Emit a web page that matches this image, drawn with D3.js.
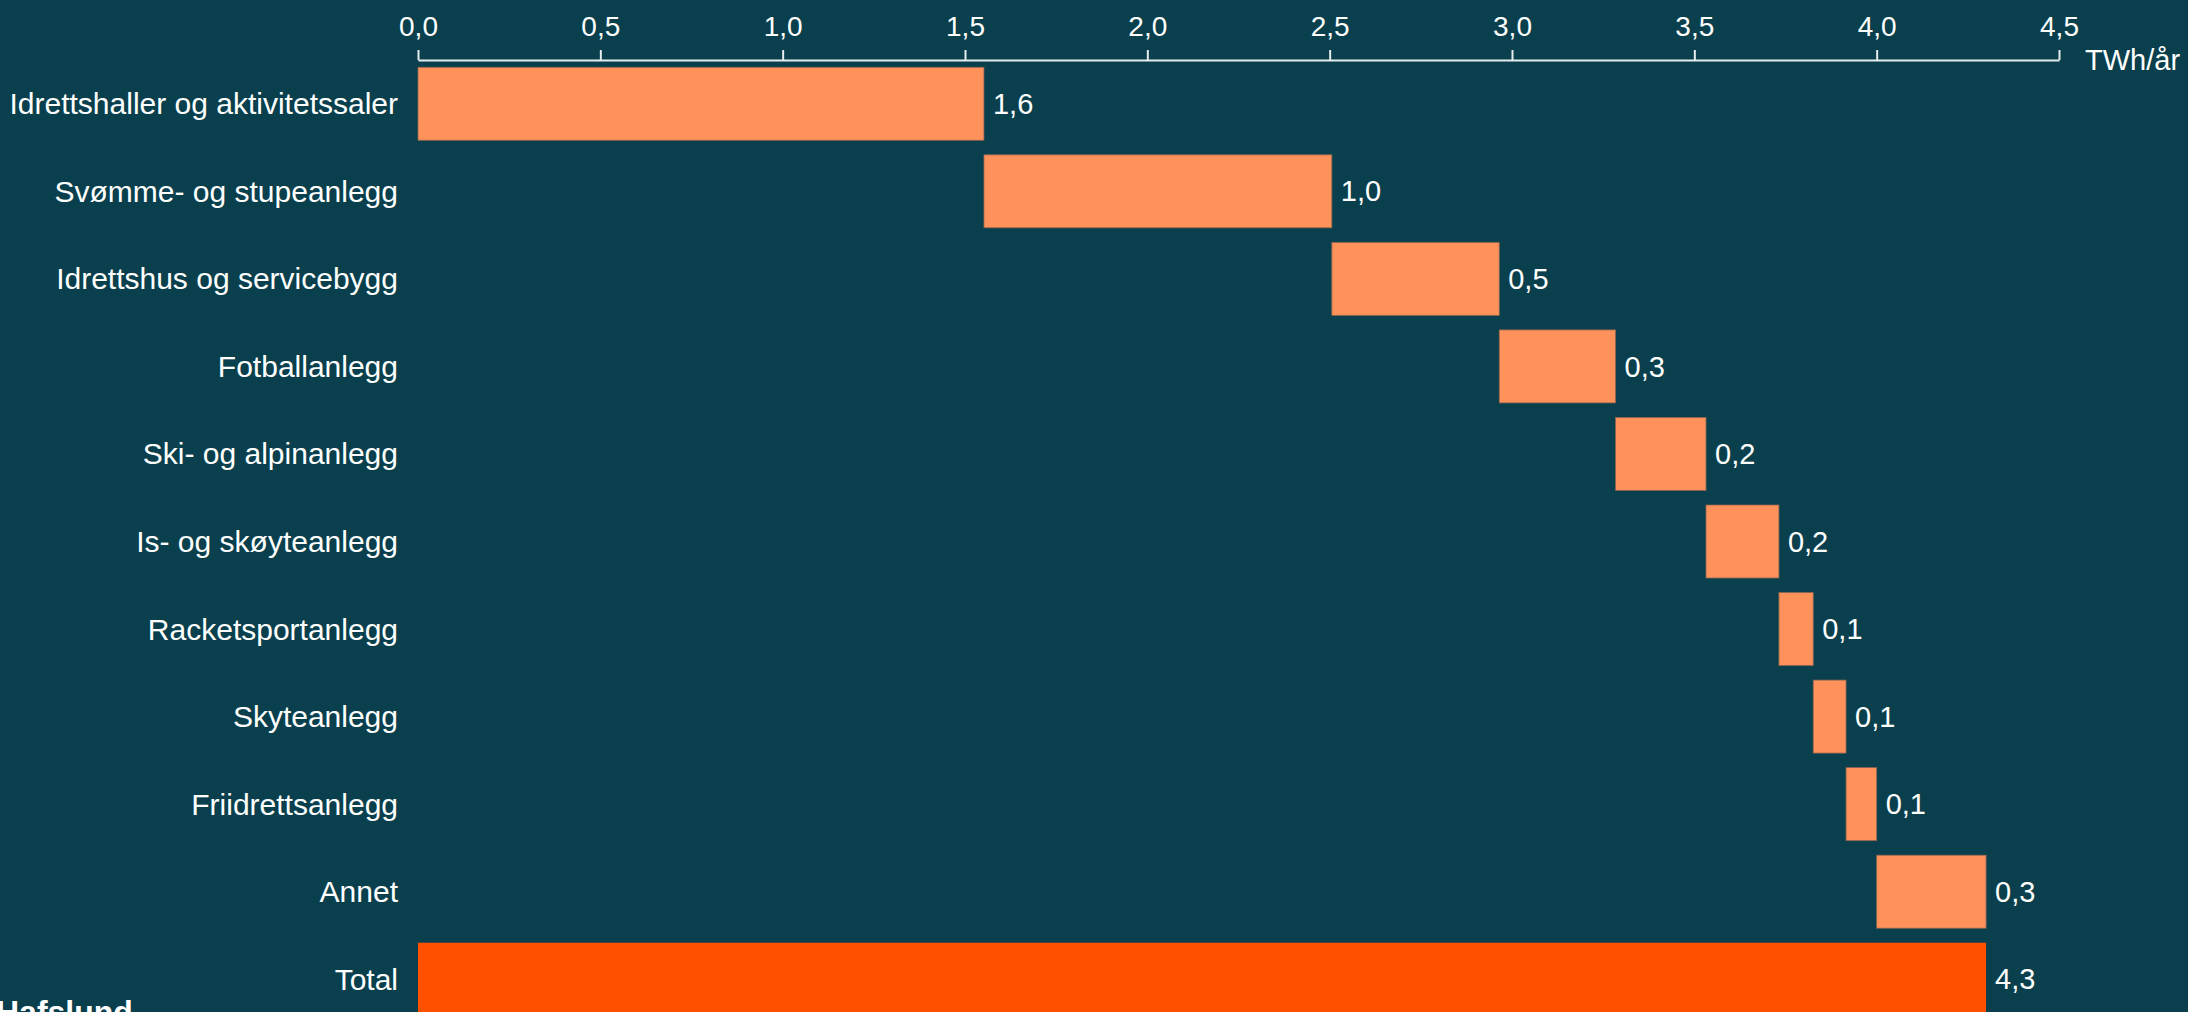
<!DOCTYPE html>
<html lang="no">
<head>
<meta charset="utf-8">
<title>Energibruk i idrettsanlegg</title>
<script src="https://cdn.jsdelivr.net/npm/d3@7"></script>
<style>
  html, body { margin: 0; padding: 0; background: #0a3f4d; overflow: hidden; }
  svg { display: block; }
  text { font-family: "Liberation Sans", Arial, sans-serif; fill: #ffffff; }
</style>
</head>
<body>
<svg id="chart" width="2188" height="1012"></svg>
<script>
// Energy use per facility type, TWh per year (waterfall steps, then total)
const categories = [
  "Idrettshaller og aktivitetssaler",
  "Svømme- og stupeanlegg",
  "Idrettshus og servicebygg",
  "Fotballanlegg",
  "Ski- og alpinanlegg",
  "Is- og skøyteanlegg",
  "Racketsportanlegg",
  "Skyteanlegg",
  "Friidrettsanlegg",
  "Annet"
];
const values = [1.552, 0.954, 0.459, 0.319, 0.248, 0.200, 0.094, 0.090, 0.084, 0.300];
const totalLabel = "Total";
const xTicks = [0, 0.5, 1.0, 1.5, 2.0, 2.5, 3.0, 3.5, 4.0, 4.5];
const unitLabel = "TWh/år";
const brand = "Hafslund";

const W = 2188, H = 1012;
const colStep = "#ff915a";
const colTotal = "#ff5000";
const bg = "#0a3f4d";

// Norwegian number format: decimal comma
const no = d3.formatLocale({ decimal: ",", thousands: " ", grouping: [3], currency: ["", " kr"] });
const fmt = no.format(".1f");

// Build waterfall rows
let run = 0;
const rows = categories.map((c, i) => {
  const start = run;
  run += values[i];
  return { name: c, start, end: run, value: values[i], total: false };
});
rows.push({ name: totalLabel, start: 0, end: run, value: run, total: true });

const svg = d3.select("#chart");
svg.append("rect").attr("width", W).attr("height", H).attr("fill", bg);

const x = d3.scaleLinear().domain([0, 4.5]).range([418, 2059]);
const y = d3.scaleBand()
  .domain(rows.map(d => d.name))
  .range([60, 1023])
  .paddingInner(0.166)
  .paddingOuter(0.083);

// Top axis
const axis = d3.axisTop(x)
  .tickValues(xTicks)
  .tickFormat(fmt)
  .tickSize(10)
  .tickSizeOuter(0)
  .tickPadding(14);

const gAxis = svg.append("g")
  .attr("transform", `translate(0,${y.range()[0]})`)
  .call(axis);
gAxis.select(".domain").attr("stroke", "#e6edef").attr("stroke-width", 2);
gAxis.selectAll(".tick line").attr("stroke", "#e6edef").attr("stroke-width", 2);
gAxis.selectAll(".tick text")
  .attr("fill", "#ffffff")
  .style("font-family", '"Liberation Sans", Arial, sans-serif')
  .style("font-size", "28px");

svg.append("text")
  .attr("x", x(4.5) + 26)
  .attr("y", y.range()[0])
  .attr("dy", "0.35em")
  .style("font-size", "29px")
  .text(unitLabel);

// Bars
svg.append("g").selectAll("rect")
  .data(rows)
  .join("rect")
  .attr("x", d => x(d.start))
  .attr("y", d => y(d.name))
  .attr("width", d => x(d.end) - x(d.start))
  .attr("height", y.bandwidth())
  .attr("fill", d => d.total ? colTotal : colStep)
  .attr("stroke", d => d.total ? "none" : "#8c6553")
  .attr("stroke-width", 0.8);

// Category labels
svg.append("g").selectAll("text")
  .data(rows)
  .join("text")
  .attr("x", x(0) - 20)
  .attr("y", d => y(d.name) + y.bandwidth() / 2)
  .attr("dy", "0.35em")
  .attr("text-anchor", "end")
  .style("font-size", "30px")
  .text(d => d.name);

// Value labels
svg.append("g").selectAll("text")
  .data(rows)
  .join("text")
  .attr("x", d => x(d.end) + 9)
  .attr("y", d => y(d.name) + y.bandwidth() / 2)
  .attr("dy", "0.35em")
  .style("font-size", "29px")
  .text(d => fmt(d.value));

// Brand mark
svg.append("text")
  .attr("x", -4)
  .attr("y", 1023)
  .style("font-size", "32px")
  .style("font-weight", "bold")
  .text(brand);
</script>
</body>
</html>
